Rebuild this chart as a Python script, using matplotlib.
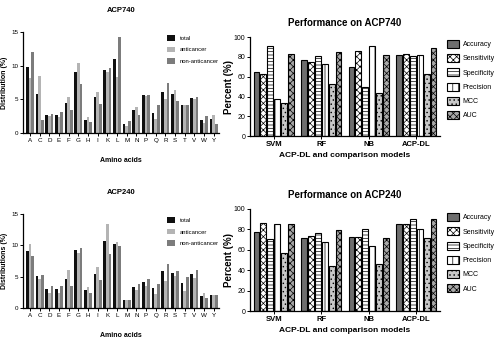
import numpy as np
import matplotlib
matplotlib.use('Agg')
import matplotlib.pyplot as plt

plt.rcParams['font.family'] = ['Liberation Sans', 'DejaVu Sans']
plt.rcParams['hatch.linewidth'] = 0.5

# amino acid composition data
amino = ['A', 'C', 'D', 'E', 'F', 'G', 'H', 'I', 'K', 'L',
         'M', 'N', 'P', 'Q', 'R', 'S', 'T', 'V', 'W', 'Y']
comp_labels = ['total', 'anticancer', 'non-anticancer']

total_740 = [9.75, 5.75, 2.65, 2.7, 4.5, 9.05, 2.0, 5.35, 9.35, 10.9,
             1.35, 3.35, 5.6, 3.0, 6.05, 5.75, 4.15, 5.15, 1.9, 2.05]
anti_740 = [8.1, 8.45, 2.5, 2.35, 5.3, 10.45, 2.3, 6.05, 9.1, 8.35,
            1.0, 3.8, 5.5, 2.15, 5.0, 6.35, 4.1, 5.05, 1.55, 2.6]
non_740 = [11.95, 1.95, 2.8, 3.1, 3.45, 7.2, 1.6, 4.25, 9.7, 14.3,
           1.8, 2.65, 5.7, 4.1, 7.4, 4.8, 4.2, 5.3, 2.45, 1.35]

total_240 = [9.15, 5.07, 3.0, 3.0, 4.6, 9.2, 2.8, 5.35, 10.65, 10.2,
             1.2, 3.4, 4.2, 3.2, 5.9, 5.5, 4.0, 5.45, 1.95, 2.05]
anti_240 = [10.25, 4.6, 2.45, 2.45, 6.05, 8.8, 3.4, 6.6, 13.35, 10.55,
            1.2, 2.85, 3.55, 2.25, 4.25, 5.1, 2.65, 4.7, 2.45, 2.0]
non_240 = [8.35, 5.3, 3.45, 3.45, 3.45, 9.5, 2.35, 4.4, 8.55, 9.95,
           1.2, 3.8, 4.65, 3.85, 7.05, 5.9, 4.95, 6.05, 1.55, 2.0]

# model performance data
models = ['SVM', 'RF', 'NB', 'ACP-DL']
metrics = ['Accuracy', 'Sensitivity', 'Specificity', 'Precision', 'MCC', 'AUC']

perf_740 = {
    'Accuracy':    [64.8, 76.6, 70.0, 81.6],
    'Sensitivity': [62.5, 75.3, 85.5, 82.6],
    'Specificity': [91.0, 80.6, 49.7, 80.6],
    'Precision':   [37.2, 72.4, 91.0, 82.2],
    'MCC':         [33.5, 53.0, 43.8, 62.8],
    'AUC':         [83.2, 84.5, 82.0, 89.5],
}
perf_240 = {
    'Accuracy':    [77.5, 71.9, 72.2, 85.3],
    'Sensitivity': [86.0, 73.9, 72.2, 85.0],
    'Specificity': [70.6, 76.1, 80.0, 89.9],
    'Precision':   [85.3, 67.6, 64.0, 80.0],
    'MCC':         [57.2, 44.1, 45.8, 71.2],
    'AUC':         [85.3, 79.4, 71.9, 90.2],
}

comp_colors = ['#101010', '#b4b4b4', '#7c7c7c']
metric_style = {
    'Accuracy':    dict(facecolor='#6e6e6e', hatch=None),
    'Sensitivity': dict(facecolor='white', hatch='xxxxx'),
    'Specificity': dict(facecolor='white', hatch='-----'),
    'Precision':   dict(facecolor='white', hatch='|||'),
    'MCC':         dict(facecolor='#c8c8c8', hatch='....'),
    'AUC':         dict(facecolor='#a8a8a8', hatch='xxxxx'),
}


def style_axis(ax):
    for s in ['top', 'right']:
        ax.spines[s].set_visible(False)
    for s in ['left', 'bottom']:
        ax.spines[s].set_linewidth(0.9)
    ax.tick_params(direction='out', length=2, width=0.7, pad=1.5)


def comp_plot(ax, title, ylab, series):
    x = np.arange(len(amino))
    w = 0.28
    for i, (vals, c, lab) in enumerate(zip(series, comp_colors, comp_labels)):
        ax.bar(x + (i - 1) * w, vals, w, color=c, label=lab, linewidth=0)
    ax.set_xlim(-0.72, 19.55)
    ax.set_ylim(0, 15)
    ax.set_yticks([0, 5, 10, 15])
    ax.set_xticks(x)
    ax.set_xticklabels(amino, fontsize=4.5)
    ax.tick_params(axis='y', labelsize=4.5)
    ax.set_title(title, fontsize=5.5, fontweight='bold', pad=14)
    ax.set_ylabel(ylab, fontsize=5, fontweight='bold', labelpad=2)
    ax.set_xlabel('Amino acids', fontsize=5, fontweight='bold', labelpad=10)
    style_axis(ax)
    ax.legend(loc='upper left', bbox_to_anchor=(0.71, 1.02), frameon=False,
              fontsize=4.2, handlelength=1.3, handleheight=1.1,
              labelspacing=1.0, handletextpad=0.8)


def perf_plot(ax, title, perf, legend_y):
    x = np.arange(len(models))
    w = 0.145
    for i, m in enumerate(metrics):
        st = metric_style[m]
        ax.bar(x + (i - 2.5) * w, perf[m], w * 0.86, facecolor=st['facecolor'],
               hatch=st['hatch'], edgecolor='black', linewidth=0.8, label=m)
    ax.set_xlim(-0.5, 3.5)
    ax.set_ylim(0, 100)
    ax.set_yticks([0, 20, 40, 60, 80, 100])
    ax.set_xticks(x)
    ax.set_xticklabels(models, fontsize=5.5, fontweight='bold')
    ax.tick_params(axis='y', labelsize=5)
    ax.tick_params(axis='x', pad=3.5)
    ax.set_title(title, fontsize=7, fontweight='bold', pad=8)
    ax.set_ylabel('Percent (%)', fontsize=7, fontweight='bold', labelpad=0)
    ax.set_xlabel('ACP-DL and comparison models', fontsize=6,
                  fontweight='bold', labelpad=3)
    style_axis(ax)
    ax.legend(loc='upper left', bbox_to_anchor=(0.885, legend_y),
              bbox_transform=ax.figure.transFigure, frameon=False,
              fontsize=5, handlelength=1.7, handleheight=1.4,
              labelspacing=0.85, handletextpad=0.5, borderpad=0.2)


fig = plt.figure(figsize=(5, 3.5), dpi=100)

ax1 = fig.add_axes([0.046, 0.62, 0.392, 0.289])
comp_plot(ax1, 'ACP740', 'Distribution (%)', [total_740, anti_740, non_740])

ax2 = fig.add_axes([0.5, 0.611, 0.38, 0.283])
perf_plot(ax2, 'Performance on ACP740', perf_740, 0.9)

ax3 = fig.add_axes([0.046, 0.12, 0.392, 0.269])
comp_plot(ax3, 'ACP240', 'Distributions (%)', [total_240, anti_240, non_240])

ax4 = fig.add_axes([0.5, 0.111, 0.38, 0.292])
perf_plot(ax4, 'Performance on ACP240', perf_240, 0.405)

fig.savefig('out.png', dpi=100)
